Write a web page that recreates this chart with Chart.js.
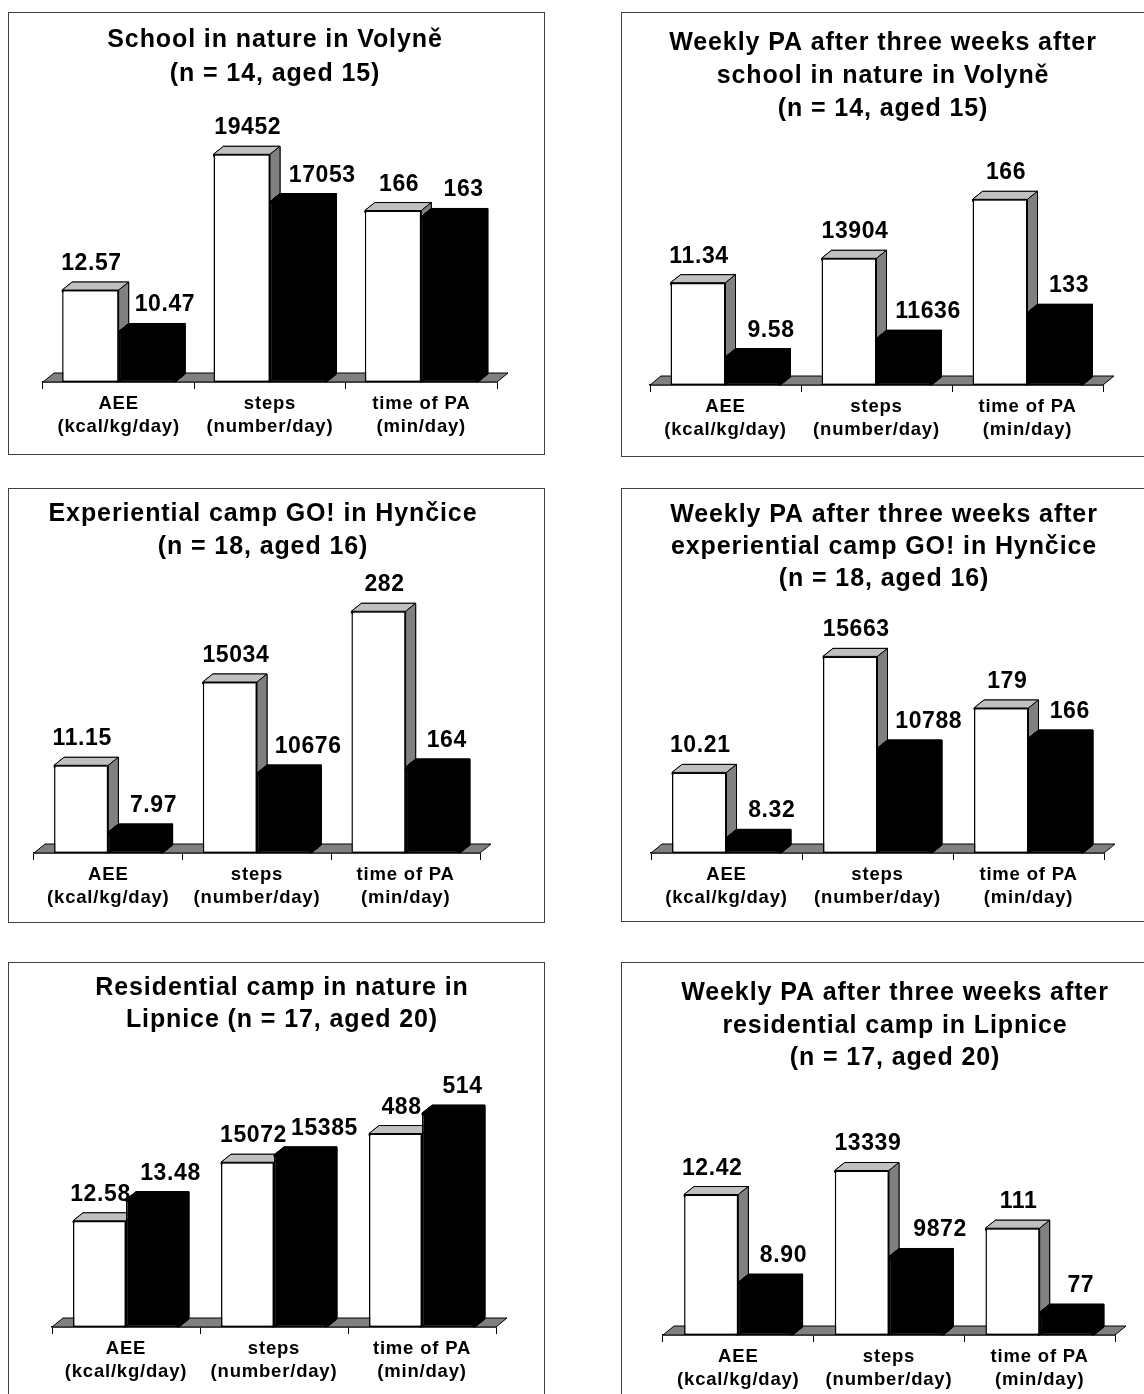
<!DOCTYPE html>
<html>
<head>
<meta charset="utf-8">
<script src="https://cdn.jsdelivr.net/npm/chart.js@4.4.1/dist/chart.umd.min.js"></script>
<style>
  html, body { margin: 0; padding: 0; background: #fff; overflow: hidden; width: 1144px; height: 1394px; }
  canvas.panel { position: absolute; }
</style>
</head>
<body>
<canvas id="volyne" class="panel"></canvas>
<canvas id="volyneAfter" class="panel"></canvas>
<canvas id="hyncice" class="panel"></canvas>
<canvas id="hynciceAfter" class="panel"></canvas>
<canvas id="lipnice" class="panel"></canvas>
<canvas id="lipniceAfter" class="panel"></canvas>
<script>
// ---- data ----
const categories = [['AEE', '(kcal/kg/day)'], ['steps', '(number/day)'], ['time of PA', '(min/day)']];
const valueDecimals = [2, 0, 0];

const volyneTitle = ['School in nature in Volyně', '(n = 14, aged 15)'];
const volyneLight = [12.57, 19452, 166];
const volyneDark = [10.47, 17053, 163];

const volyneAfterTitle = ['Weekly PA after three weeks after', 'school in nature in Volyně', '(n = 14, aged 15)'];
const volyneAfterLight = [11.34, 13904, 166];
const volyneAfterDark = [9.58, 11636, 133];

const hynciceTitle = ['Experiential camp GO! in Hynčice', '(n = 18, aged 16)'];
const hynciceLight = [11.15, 15034, 282];
const hynciceDark = [7.97, 10676, 164];

const hynciceAfterTitle = ['Weekly PA after three weeks after', 'experiential camp GO! in Hynčice', '(n = 18, aged 16)'];
const hynciceAfterLight = [10.21, 15663, 179];
const hynciceAfterDark = [8.32, 10788, 166];

const lipniceTitle = ['Residential camp in nature in', 'Lipnice (n = 17, aged 20)'];
const lipniceLight = [12.58, 15072, 488];
const lipniceDark = [13.48, 15385, 514];

const lipniceAfterTitle = ['Weekly PA after three weeks after', 'residential camp in Lipnice', '(n = 17, aged 20)'];
const lipniceAfterLight = [12.42, 13339, 111];
const lipniceAfterDark = [8.90, 9872, 77];

// [min, max] of the hidden value axis used by each category
const volyneRanges = [[7.91, 20.835], [7910, 20835], [79.1, 208.35]];
const volyneAfterRanges = [[8.907, 15.043], [10312, 17626], [111.77, 187.12]];
const hynciceRanges = [[6.969, 18.888], [6845, 18818], [98.8, 288.27]];
const hynciceAfterRanges = [[7.866, 15.136], [5200, 18505], [116.17, 224.5]];
const lipniceRanges = [[8.06, 18.701], [8060, 18701], [241.4, 560.1]];
const lipniceAfterRanges = [[6.781, 17.136], [6707, 17108], [67.77, 172.2]];

// ---- look ----
const FONT = "'Liberation Sans', Arial, Helvetica, sans-serif";
const BAR_DX = 10, BAR_DY = 8;       // depth of the columns
const FLOOR_DX = 11, FLOOR_DY = 9;   // depth of the floor slab
const LIGHT_NUDGE = [1, 6, 6];       // value label shift per category
const DARK_NUDGE = [18, 24, 14];
const CHART_TOP = 115;

const panels = [
  { id: 'volyne', title: volyneTitle, light: volyneLight, dark: volyneDark, ranges: volyneRanges,
    box: [8, 12, 537, 443], axisY: 370, axisL: 35, axisR: 489, catPct: 0.747, titleX: 267, titleY: 35, titleStep: 34 },
  { id: 'volyneAfter', title: volyneAfterTitle, light: volyneAfterLight, dark: volyneAfterDark, ranges: volyneAfterRanges,
    box: [621, 12, 537, 445], axisY: 373, axisL: 29, axisR: 482, catPct: 0.728, titleX: 262, titleY: 38, titleStep: 33 },
  { id: 'hyncice', title: hynciceTitle, light: hynciceLight, dark: hynciceDark, ranges: hynciceRanges,
    box: [8, 488, 537, 435], axisY: 365, axisL: 26, axisR: 472, catPct: 0.73, titleX: 255, titleY: 32.5, titleStep: 33 },
  { id: 'hynciceAfter', title: hynciceAfterTitle, light: hynciceAfterLight, dark: hynciceAfterDark, ranges: hynciceAfterRanges,
    box: [621, 488, 537, 434], axisY: 365, axisL: 30, axisR: 483, catPct: 0.722, titleX: 263, titleY: 34, titleStep: 32 },
  { id: 'lipnice', title: lipniceTitle, light: lipniceLight, dark: lipniceDark, ranges: lipniceRanges,
    box: [8, 962, 537, 440], axisY: 365, axisL: 44, axisR: 488, catPct: 0.716, titleX: 274, titleY: 33, titleStep: 32.3 },
  { id: 'lipniceAfter', title: lipniceAfterTitle, light: lipniceAfterLight, dark: lipniceAfterDark, ranges: lipniceAfterRanges,
    box: [621, 962, 537, 440], axisY: 373, axisL: 42, axisR: 494, catPct: 0.72, titleX: 274, titleY: 38, titleStep: 32.5 }
];

function polygon(ctx, pts, fill) {
  ctx.beginPath();
  ctx.moveTo(pts[0][0], pts[0][1]);
  for (let i = 1; i < pts.length; i++) ctx.lineTo(pts[i][0], pts[i][1]);
  ctx.closePath();
  ctx.fillStyle = fill;
  ctx.fill();
  ctx.stroke();
}

// floor, column depth faces, value labels, title and frame
const columns3d = {
  id: 'columns3d',
  beforeDraw(chart) {
    const ctx = chart.ctx;
    ctx.letterSpacing = '0.8px';
    ctx.save();
    ctx.strokeStyle = '#404040';
    ctx.lineWidth = 1;
    ctx.strokeRect(0.5, 0.5, chart.width - 1, chart.height - 1);
    ctx.restore();
  },
  beforeDatasetsDraw(chart) {
    const ctx = chart.ctx;
    const a = chart.chartArea;
    ctx.save();
    ctx.strokeStyle = '#000';
    ctx.lineWidth = 1;
    ctx.lineJoin = 'miter';
    polygon(ctx, [[a.left, a.bottom], [a.right, a.bottom], [a.right + FLOOR_DX, a.bottom - FLOOR_DY], [a.left + FLOOR_DX, a.bottom - FLOOR_DY]], '#808080');
    // depth faces go first so every front face is painted over them
    chart.data.datasets.forEach((ds, di) => {
      const light = di % 2 === 0;
      chart.getDatasetMeta(di).data.forEach((bar, i) => {
        if (ds.data[i] == null) return;
        const { x, y, base, width } = bar.getProps(['x', 'y', 'base', 'width'], true);
        const l = x - width / 2, r = x + width / 2;
        const topFill = light ? '#c0c0c0' : '#000';
        const sideFill = light ? '#808080' : '#000';
        polygon(ctx, [[l, y + 2], [l, y], [l + BAR_DX, y - BAR_DY], [r + BAR_DX, y - BAR_DY], [r + BAR_DX, base - BAR_DY], [r, base], [r - 2, base], [r - 2, y + 2]], sideFill);
        polygon(ctx, [[l, y], [r, y], [r + BAR_DX, y - BAR_DY], [l + BAR_DX, y - BAR_DY]], topFill);
        polygon(ctx, [[r, y], [r + BAR_DX, y - BAR_DY], [r + BAR_DX, base - BAR_DY], [r, base]], sideFill);
      });
    });
    ctx.restore();
  },
  afterDatasetsDraw(chart) {
    const ctx = chart.ctx;
    ctx.save();
    ctx.letterSpacing = '0.6px';
    ctx.font = 'bold 23px ' + FONT;
    ctx.fillStyle = '#000';
    ctx.textAlign = 'center';
    ctx.textBaseline = 'alphabetic';
    chart.data.datasets.forEach((ds, di) => {
      const light = di % 2 === 0;
      chart.getDatasetMeta(di).data.forEach((bar, i) => {
        const v = ds.data[i];
        if (v == null) return;
        const { x, y } = bar.getProps(['x', 'y'], true);
        const shift = light ? LIGHT_NUDGE[i] : DARK_NUDGE[i];
        ctx.fillText(v.toFixed(valueDecimals[i]), x + shift, y - 20);
      });
    });
    ctx.restore();
  },
  afterDraw(chart) {
    const p = chart.options.plugins.columns3d;
    const ctx = chart.ctx;
    ctx.save();
    ctx.letterSpacing = '0.9px';
    ctx.font = 'bold 25px ' + FONT;
    ctx.fillStyle = '#000';
    ctx.textAlign = 'center';
    ctx.textBaseline = 'alphabetic';
    p.lines.forEach((line, k) => ctx.fillText(line, p.x, p.y + k * p.step));
    ctx.restore();
  }
};

function buildPanel(p) {
  const canvas = document.getElementById(p.id);
  const [left, top, w, h] = p.box;
  canvas.width = w;
  canvas.height = h;
  canvas.style.left = left + 'px';
  canvas.style.top = top + 'px';
  canvas.style.width = w + 'px';
  canvas.style.height = h + 'px';

  const scales = {
    x: {
      type: 'category',
      offset: true,
      grid: { display: true, drawOnChartArea: false, drawTicks: true, tickLength: 7, offset: true, color: '#000', lineWidth: 1 },
      border: { display: true, color: '#000', width: 1.5 },
      ticks: {
        autoSkip: false, maxRotation: 0, minRotation: 0, padding: 3, color: '#000',
        font: { family: FONT, size: 18.5, weight: 'bold', lineHeight: 1.26 }
      },
      afterFit(scale) { scale.height = h - p.axisY; }
    }
  };
  const datasets = [];
  categories.forEach((c, ci) => {
    const axisId = 'y' + ci;
    const [lo, hi] = p.ranges[ci];
    scales[axisId] = { type: 'linear', display: false, min: lo, max: hi };
    const only = (arr) => arr.map((v, i) => (i === ci ? v : null));
    const common = { yAxisID: axisId, base: lo, skipNull: true, categoryPercentage: p.catPct, barPercentage: 1,
                     borderColor: '#000', borderWidth: 1.5, borderSkipped: false, inflateAmount: 0 };
    datasets.push(Object.assign({ label: 'Series 1', data: only(p.light), backgroundColor: '#ffffff' }, common));
    datasets.push(Object.assign({ label: 'Series 2', data: only(p.dark), backgroundColor: '#000000' }, common));
  });

  new Chart(canvas, {
    type: 'bar',
    data: { labels: categories, datasets },
    options: {
      responsive: false,
      animation: false,
      devicePixelRatio: 1,
      layout: { padding: { top: CHART_TOP, left: p.axisL, right: w - p.axisR, bottom: 0 } },
      plugins: {
        legend: { display: false },
        tooltip: { enabled: false },
        title: { display: false },
        columns3d: { lines: p.title, x: p.titleX, y: p.titleY, step: p.titleStep }
      },
      scales
    },
    plugins: [columns3d]
  });
}

panels.forEach(buildPanel);
</script>
</body>
</html>
